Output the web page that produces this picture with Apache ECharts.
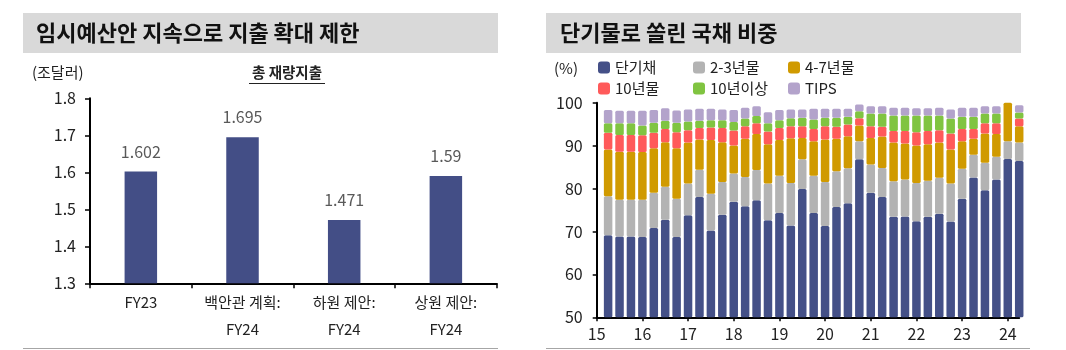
<!DOCTYPE html>
<html>
<head>
<meta charset="utf-8">
<script src="https://cdn.jsdelivr.net/npm/echarts@6/dist/echarts.min.js"></script>
<style>
  html, body { margin: 0; padding: 0; background: #fff; }
  #chart { width: 1066px; height: 350px; }
</style>
</head>
<body>
<div id="chart"></div>
<script>
const FONT = "'Noto Sans CJK KR', 'Noto Sans', sans-serif";

// 왼쪽: 총 재량지출 (조달러)
const spendCats = ['FY23', '백안관 계획:\nFY24', '하원 제안:\nFY24', '상원 제안:\nFY24'];
const spendValues = [1.602, 1.695, 1.471, 1.59];

// 오른쪽: 만기별 국채 비중 (%), 분기별. 첫 칸은 축 시작점(빈 칸)
const periods = [
  '14.4Q',
  '15.1Q', '15.2Q', '15.3Q', '15.4Q',
  '16.1Q', '16.2Q', '16.3Q', '16.4Q',
  '17.1Q', '17.2Q', '17.3Q', '17.4Q',
  '18.1Q', '18.2Q', '18.3Q', '18.4Q',
  '19.1Q', '19.2Q', '19.3Q', '19.4Q',
  '20.1Q', '20.2Q', '20.3Q', '20.4Q',
  '21.1Q', '21.2Q', '21.3Q', '21.4Q',
  '22.1Q', '22.2Q', '22.3Q', '22.4Q',
  '23.1Q', '23.2Q', '23.3Q', '23.4Q',
  '24.1Q'
];
const yearLabels = ['15', '16', '17', '18', '19', '20', '21', '22', '23', '24'];

const shortBills = [69.1, 68.8, 68.8, 68.7, 70.8, 72.7, 68.7, 73.8, 78.0, 70.2, 73.9, 76.9, 75.9, 77.3, 72.6, 74.3, 71.4, 79.9, 74.3,
  71.3, 75.7, 76.6, 86.8, 79.0, 78.0, 73.4, 73.5, 72.4, 73.4, 74.1, 72.3, 77.6, 82.6, 79.6, 82.1, 86.9, 86.4];
const notes2to3 = [9.1, 8.6, 8.6, 8.7, 8.2, 7.7, 8.9, 7.4, 6.4, 8.6, 7.6, 6.6, 6.8, 7.0, 8.6, 8.7, 9.9, 6.9, 8.7,
  10.2, 8.3, 8.1, 4.2, 6.6, 6.8, 8.3, 8.6, 8.9, 8.4, 8.4, 8.9, 7.0, 5.3, 6.4, 5.3, 4.1, 4.3];
const notes4to7 = [10.9, 11.2, 11.2, 11.1, 10.4, 10.4, 11.8, 9.5, 7.0, 12.5, 9.3, 6.5, 8.9, 8.4, 9.1, 8.3, 10.4, 5.0, 8.0,
  9.9, 7.6, 7.5, 3.7, 6.2, 7.3, 9.0, 8.4, 8.7, 8.5, 8.2, 7.9, 6.4, 3.7, 6.8, 5.3, 9.2, 3.8];
const notes10y = [3.9, 3.9, 3.9, 3.9, 3.6, 3.1, 3.7, 2.9, 2.7, 2.9, 3.3, 3.5, 2.9, 2.5, 3.0, 2.8, 2.8, 2.7, 2.9,
  3.1, 2.8, 2.7, 1.7, 2.7, 2.3, 2.7, 2.9, 3.1, 3.1, 2.9, 3.7, 2.9, 2.3, 2.4, 2.5, 0, 1.8];
const bondsOver10y = [2.2, 2.7, 2.7, 2.3, 2.3, 1.9, 2.2, 2.0, 1.7, 1.7, 1.8, 2.0, 1.8, 1.7, 1.9, 1.8, 1.9, 2.0, 2.2,
  2.0, 2.1, 1.8, 1.6, 3.0, 3.1, 3.6, 3.6, 3.9, 3.6, 3.4, 3.5, 2.8, 2.8, 2.3, 2.3, 0, 1.4];
const tips = [3.1, 2.9, 2.9, 3.4, 3.0, 2.9, 2.9, 2.8, 2.8, 2.7, 2.5, 2.8, 2.5, 2.3, 2.6, 2.4, 2.0, 1.9, 2.5,
  2.1, 2.1, 1.9, 1.6, 1.7, 1.7, 1.8, 1.8, 1.7, 1.7, 1.8, 2.1, 2.1, 2.1, 1.7, 1.7, 0, 1.7];

const stackNames = ['단기채', '2-3년물', '4-7년물', '10년물', '10년이상', 'TIPS'];
const stackData = [shortBills, notes2to3, notes4to7, notes10y, bondsOver10y, tips];
const stackColors = ['#445087', '#b3b3b3', '#d09a00', '#ff5a5a', '#80c441', '#b3a3cb'];

const chart = echarts.init(document.getElementById('chart'));

const legendLeft = [598, 693, 788];
const legends = stackNames.map((name, i) => ({
  data: [name],
  left: legendLeft[i % 3],
  top: i < 3 ? 60 : 81,
  padding: 0,
  icon: 'roundRect',
  itemWidth: 12,
  itemHeight: 12,
  selectedMode: false,
  textStyle: { fontSize: 15, color: '#222', fontFamily: FONT }
}));

const yearTick = (i) => i % 4 === 0;

const option = {
  animation: false,
  textStyle: { fontFamily: FONT },
  legend: legends,
  graphic: [
    { type: 'rect', shape: { x: 23, y: 13, width: 475, height: 40 }, style: { fill: '#d9d9d9' } },
    { type: 'rect', shape: { x: 546, y: 13, width: 475, height: 40 }, style: { fill: '#d9d9d9' } },
    { type: 'text', x: 36, y: 33, style: { text: '임시예산안 지속으로 지출 확대 제한', fontSize: 22, fontWeight: 'bold', fontFamily: FONT, fill: '#111', verticalAlign: 'middle' } },
    { type: 'text', x: 560, y: 33, style: { text: '단기물로 쏠린 국채 비중', fontSize: 22, fontWeight: 'bold', fontFamily: FONT, fill: '#111', verticalAlign: 'middle' } },
    { type: 'text', x: 32, y: 72, style: { text: '(조달러)', fontSize: 15, fontFamily: FONT, fill: '#222', verticalAlign: 'middle' } },
    { type: 'text', x: 287, y: 72, style: { text: '총 재량지출', fontSize: 14.5, fontWeight: 'bold', fontFamily: FONT, fill: '#222', align: 'center', verticalAlign: 'middle' } },
    { type: 'line', shape: { x1: 249, y1: 83.5, x2: 325, y2: 83.5 }, style: { stroke: '#222', lineWidth: 1 } },
    { type: 'text', x: 554, y: 68, style: { text: '(%)', fontSize: 15, fontFamily: FONT, fill: '#222', verticalAlign: 'middle' } },
    { type: 'line', shape: { x1: 23, y1: 348.5, x2: 498, y2: 348.5 }, style: { stroke: '#a6a6a6', lineWidth: 1 } },
    { type: 'line', shape: { x1: 546, y1: 348.5, x2: 1030, y2: 348.5 }, style: { stroke: '#a6a6a6', lineWidth: 1 } }
  ],
  grid: [
    { left: 90, top: 98.3, width: 406.7, height: 185 },
    { left: 596.7, top: 102.7, width: 422.5, height: 214.6 }
  ],
  xAxis: [
    {
      gridIndex: 0,
      type: 'category',
      data: spendCats,
      axisLine: { lineStyle: { color: '#000', width: 2 } },
      axisTick: { show: true, length: 5, lineStyle: { color: '#000', width: 1.5 } },
      axisLabel: { color: '#222', fontSize: 15, lineHeight: 27, margin: 5, interval: 0 }
    },
    {
      gridIndex: 1,
      type: 'category',
      data: periods,
      boundaryGap: false,
      axisLine: { lineStyle: { color: '#000', width: 2 } },
      axisTick: { show: true, interval: yearTick, length: 4, lineStyle: { color: '#000', width: 1.5 } },
      axisLabel: {
        color: '#222', fontSize: 16, margin: 9, interval: yearTick, hideOverlap: false,
        formatter: (v, i) => (i % 4 === 0 ? yearLabels[i / 4] : '')
      }
    }
  ],
  yAxis: [
    {
      gridIndex: 0,
      type: 'value',
      min: 1.3,
      max: 1.8,
      interval: 0.1,
      splitLine: { show: false },
      axisLine: { show: true, lineStyle: { color: '#000', width: 2 } },
      axisTick: { show: true, length: 5, lineStyle: { color: '#000', width: 1.5 } },
      axisLabel: { color: '#222', fontSize: 16, margin: 14, formatter: v => v.toFixed(1) }
    },
    {
      gridIndex: 1,
      type: 'value',
      min: 50,
      max: 100,
      interval: 10,
      splitLine: { show: false },
      axisLine: { show: true, lineStyle: { color: '#000', width: 2 } },
      axisTick: { show: true, length: 4, lineStyle: { color: '#000', width: 1.5 } },
      axisLabel: { color: '#222', fontSize: 16, margin: 14 }
    }
  ],
  series: [
    {
      name: '총 재량지출',
      type: 'bar',
      xAxisIndex: 0,
      yAxisIndex: 0,
      data: spendValues,
      barWidth: 32.5,
      itemStyle: { color: '#434e86' },
      label: { show: true, position: 'top', distance: 12, color: '#595959', fontSize: 16 }
    }
  ].concat(stackNames.map((name, i) => ({
    name: name,
    type: 'bar',
    stack: 'share',
    xAxisIndex: 1,
    yAxisIndex: 1,
    // 첫 칸(축 시작점)은 비워둠
    data: [null].concat(stackData[i]),
    barWidth: 8.5,
    itemStyle: { color: stackColors[i], borderRadius: 1.5 }
  })))
};

chart.setOption(option);
</script>
</body>
</html>
